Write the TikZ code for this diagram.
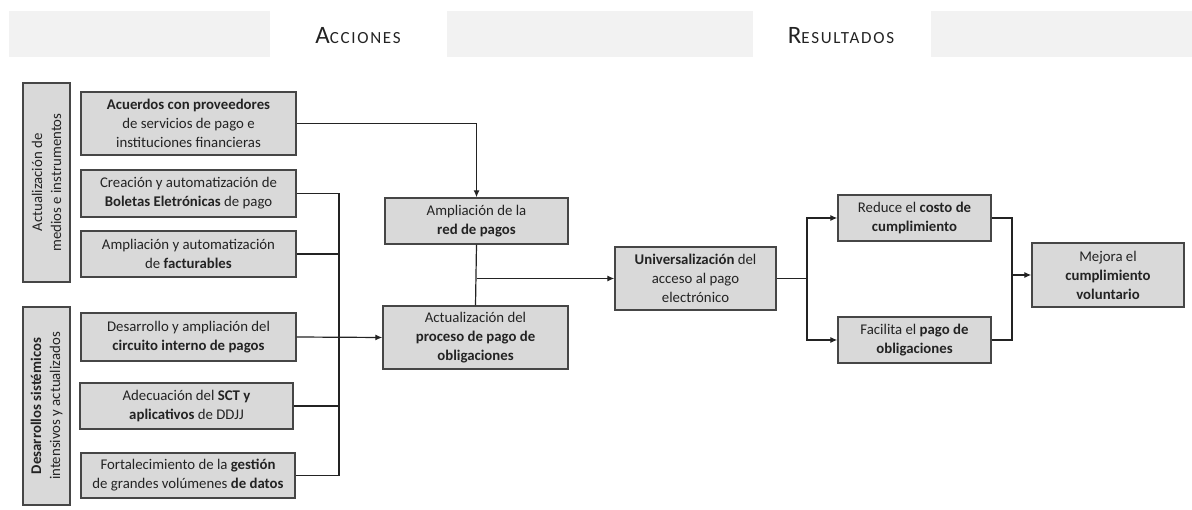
\documentclass[tikz,border=0pt]{standalone}
\usepackage{fontspec}
\setmainfont{Carlito}
\usetikzlibrary{positioning,arrows.meta,calc}
\definecolor{bFill}{RGB}{217,217,217}
\definecolor{bLine}{RGB}{70,70,70}
\definecolor{bText}{RGB}{35,35,35}
\definecolor{hFill}{RGB}{242,242,242}
\definecolor{wire}{RGB}{35,35,35}
\tikzset{
  box/.style={rectangle, draw=bLine, fill=bFill, line width=1.4pt,
              align=center, text=bText, inner sep=2pt,
              font=\fontsize{14.8}{19}\selectfont},
  grp/.style={box, rotate=90, minimum height=47pt, inner sep=1pt},
  hdtxt/.style={text=bText, inner sep=0pt},
  line/.style={draw=wire, line width=1.2pt},
  flow/.style={line, -{Latex[length=7pt,width=6pt]}},
}
\newcommand{\HdCaps}[2]{{\fontsize{25}{25}\selectfont\addfontfeatures{LetterSpace=6}#1}{\fontsize{17}{17}\selectfont\addfontfeatures{LetterSpace=10}#2}}

\begin{document}
\begin{tikzpicture}[x=1pt, y=-1pt]
  \useasboundingbox (0,0) rectangle (1192,510);

  % --- header band ---------------------------------------------------------
  \fill[hFill] (9,11) rectangle (270,57);
  \fill[hFill] (447,11) rectangle (753,57);
  \fill[hFill] (931,11) rectangle (1192,57);
  \node[hdtxt] (hdAcc) at (358,36) {\HdCaps{A}{CCIONES}};
  \node[hdtxt] (hdRes) at (841,36) {\HdCaps{R}{ESULTADOS}};

  % --- group labels --------------------------------------------------------
  \node[grp, minimum width=199pt] (grpA) at (46.5,182.5) {Actualización de\\ medios e instrumentos};
  \node[grp, minimum width=198pt] (grpB) at (46.5,406) {\textbf{Desarrollos sistémicos}\\ intensivos y actualizados};

  % --- actions -------------------------------------------------------------
  \node[box, minimum width=215pt, minimum height=63pt] (acu) at (188.5,123.5) {\textbf{Acuerdos con proveedores}\\ de servicios de pago e\\ instituciones financieras};
  \node[box, minimum width=215pt, minimum height=47pt] (cre) at (188.5,193.5) {Creación y automatización de\\ \textbf{Boletas Eletrónicas} de pago};
  \node[box, minimum width=215pt, minimum height=46pt] (fac) at (188.5,254) {Ampliación y automatización\\ de \textbf{facturables}};
  \node[box, minimum width=215pt, minimum height=48pt] (des) at (188.5,337) {Desarrollo y ampliación del\\ \textbf{circuito interno de pagos}};
  \node[box, minimum width=213pt, minimum height=46pt] (ade) at (186.5,406) {Adecuación del \textbf{SCT y}\\ \textbf{aplicativos} de DDJJ};
  \node[box, minimum width=214pt, minimum height=45pt] (frt) at (188,475.5) {Fortalecimiento de la \textbf{gestión}\\ de grandes volúmenes \textbf{de datos}};

  % --- intermediate results ------------------------------------------------
  \node[box, minimum width=183pt, minimum height=46pt] (red) at (476.5,221) {Ampliación de la\\ \textbf{red de pagos}};
  \node[box, minimum width=185pt, minimum height=63pt] (act) at (475.5,337.5) {Actualización del\\ \textbf{proceso de pago de}\\ \textbf{obligaciones}};
  \node[box, minimum width=161pt, minimum height=63pt] (uni) at (695.5,278.5) {\textbf{Universalización} del\\ acceso al pago\\ electrónico};
  \node[box, minimum width=153pt, minimum height=46pt] (rcc) at (914.5,218) {Reduce el \textbf{costo de}\\ \textbf{cumplimiento}};
  \node[box, minimum width=153pt, minimum height=46pt] (fpo) at (914.5,340) {Facilita el \textbf{pago de}\\ \textbf{obligaciones}};
  \node[box, minimum width=152pt, minimum height=64pt] (mej) at (1108,275) {Mejora el\\ \textbf{cumplimiento}\\ \textbf{voluntario}};

  % --- junctions -----------------------------------------------------------
  \coordinate (jn) at (339,337);
  \coordinate (fk) at (807,278.5);
  \coordinate (mg) at (1012,275);

  % --- connectors ----------------------------------------------------------
  \draw[flow] (acu.east) -| (red.north);
  \draw[line] (cre.east) -| (jn);
  \draw[line] (fac.east) -| (jn);
  \draw[line] (ade.east) -| (jn);
  \draw[line] (frt.east) -| (jn);
  \draw[flow] (des.east) -- (act.west);
  \draw[line] (red.south) -- (act.north);
  \draw[flow] (red.south |- uni.west) -- (uni.west);
  \draw[line] (uni.east) -- (fk);
  \draw[flow] (fk) |- (rcc.west);
  \draw[flow] (fk) |- (fpo.west);
  \draw[line] (rcc.east) -| (mg);
  \draw[line] (fpo.east) -| (mg);
  \draw[flow] (mg) -- (mej.west);
\end{tikzpicture}
\end{document}
